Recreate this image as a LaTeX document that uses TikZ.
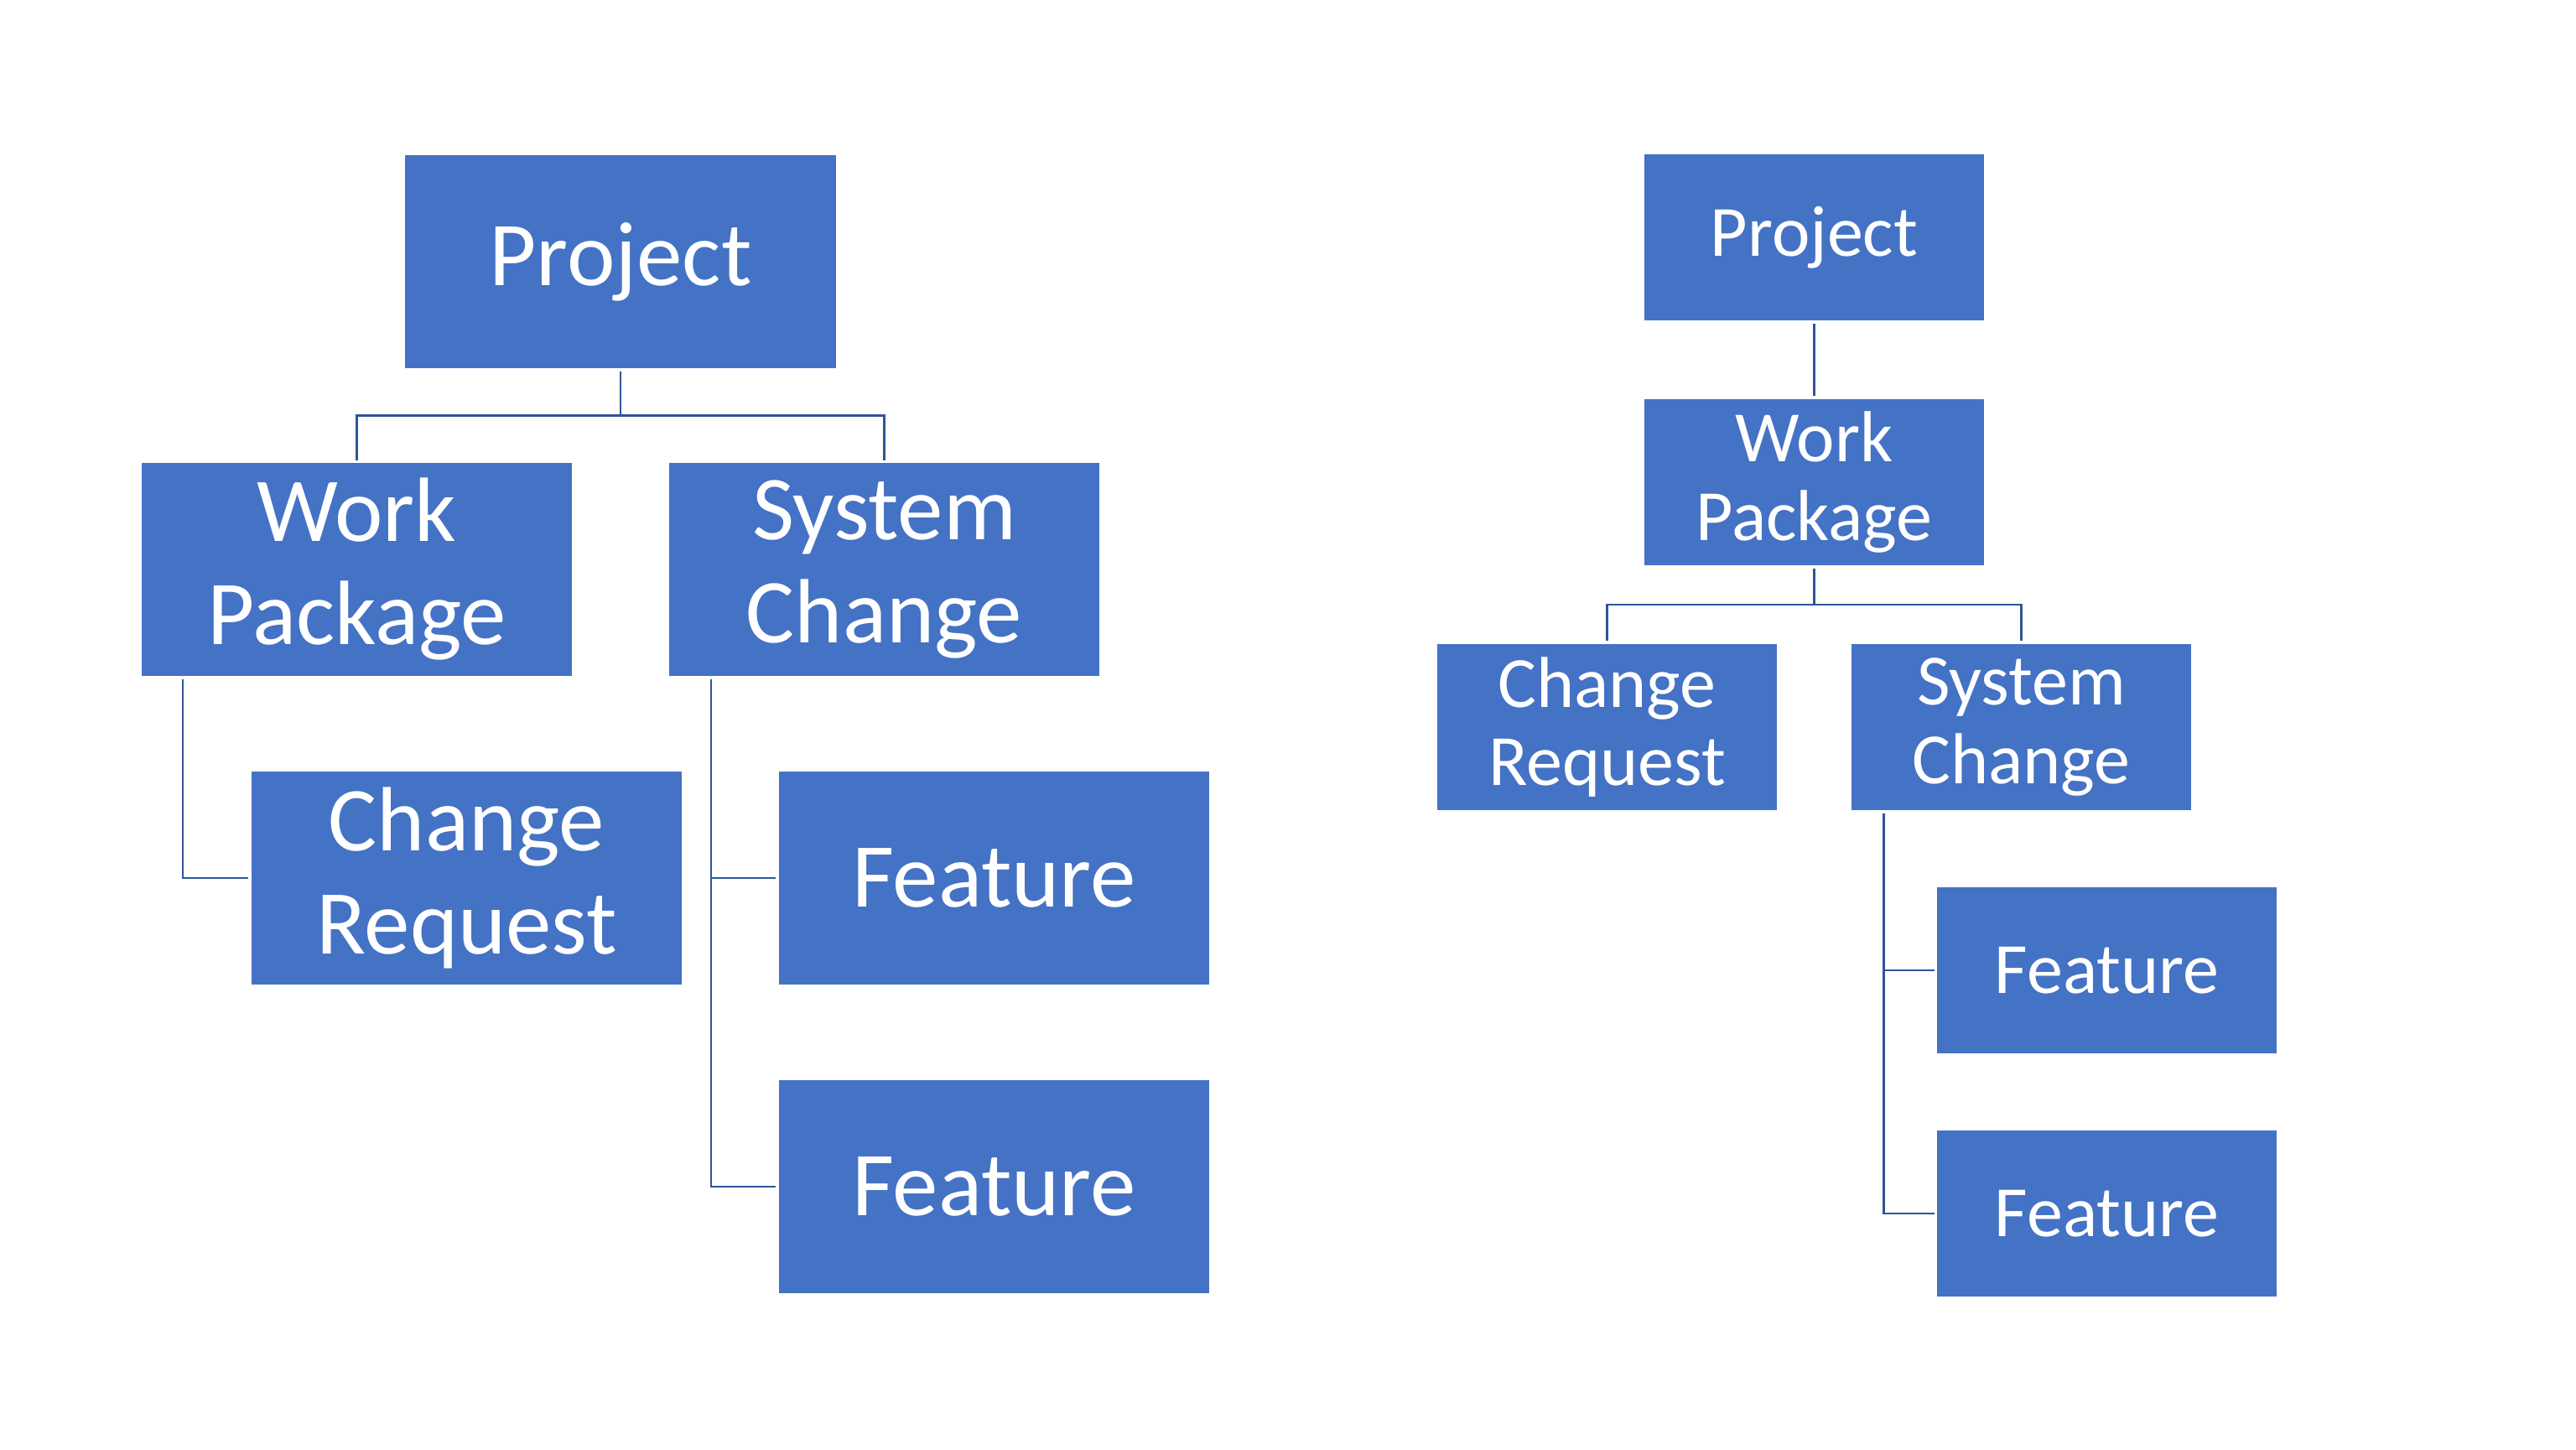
\documentclass[tikz,border=0pt]{standalone}
\usepackage{fontspec}
\setmainfont{Carlito}
\usepackage{tikz}
\usetikzlibrary{positioning}
\definecolor{orgblue}{RGB}{68,114,196}
\definecolor{orgline}{RGB}{47,85,151}

\begin{document}
\begin{tikzpicture}[
  bigbox/.style={rectangle, fill=orgblue, draw=white, line width=0.5pt, outer sep=0.03cm, inner sep=0pt, minimum width=5.15cm, minimum height=2.55cm, align=center, text=white, font=\fontsize{31}{35}\selectfont},
  smallbox/.style={rectangle, fill=orgblue, draw=white, line width=0.5pt, outer sep=0.03cm, inner sep=0pt, minimum width=4.06cm, minimum height=2cm, align=center, text=white, font=\fontsize{24.5}{26.5}\selectfont},
  link/.style={draw=orgline, line width=0.6pt}
]
\path[use as bounding box, fill=white] (0,0) rectangle (30.72,-17.28);
\node[bigbox] (lp) at (7.40,-3.12) {Project};
\node[bigbox, below left=1.06cm and 0.54cm of lp.south] (lwp) {Work\\Package};
\node[bigbox, below right=1.06cm and 0.54cm of lp.south] (lsc) {System\\Change};
\node[bigbox, below right=1.07cm and 1.31cm of lwp.south west] (lcr) {Change\\Request};
\node[bigbox, below right=1.07cm and 1.31cm of lsc.south west] (lf1) {Feature};
\node[bigbox, below=1.07cm of lf1] (lf2) {Feature};
\node[smallbox] (rp) at (21.635,-2.83) {Project};
\node[smallbox, below=0.86cm of rp] (rwp) {Work\\Package};
\node[smallbox, below left=0.86cm and 0.41cm of rwp.south] (rcr) {Change\\Request};
\node[smallbox, below right=0.86cm and 0.41cm of rwp.south] (rsc) {System\\Change};
\node[smallbox, below right=0.84cm and 1.02cm of rsc.south west] (rf1) {Feature};
\node[smallbox, below=0.84cm of rf1] (rf2) {Feature};
\draw[link] (lp.south) -- ++(0,-0.53) -| (lwp.north);
\draw[link] (lp.south) -- ++(0,-0.53) -| (lsc.north);
\draw[link] ([xshift=0.53cm]lwp.south west) |- (lcr.west);
\draw[link] ([xshift=0.54cm]lsc.south west) |- (lf1.west);
\draw[link] ([xshift=0.54cm]lsc.south west) |- (lf2.west);
\draw[link] (rp.south) -- (rwp.north);
\draw[link] (rwp.south) -- ++(0,-0.43) -| (rcr.north);
\draw[link] (rwp.south) -- ++(0,-0.43) -| (rsc.north);
\draw[link] ([xshift=0.42cm]rsc.south west) |- (rf1.west);
\draw[link] ([xshift=0.42cm]rsc.south west) |- (rf2.west);
\end{tikzpicture}
\end{document}
